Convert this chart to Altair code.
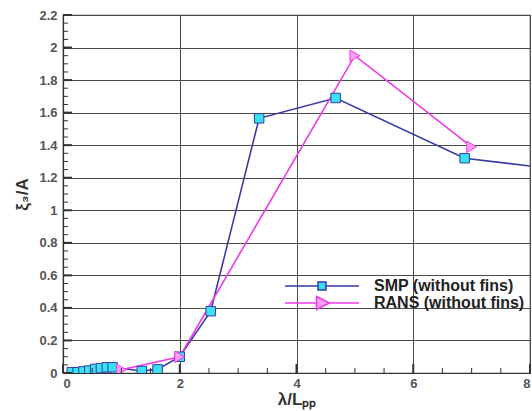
import altair as alt
import pandas as pd

# ---- data ----
smp_x = [0.15, 0.25, 0.35, 0.45, 0.55, 0.65, 0.75, 0.85, 1.35, 1.62, 2.0, 2.53, 3.36, 4.67, 6.88, 9.0]
smp_y = [0.005, 0.005, 0.01, 0.015, 0.025, 0.03, 0.035, 0.035, 0.012, 0.022, 0.10, 0.38, 1.565, 1.69, 1.32, 1.23]
rans_x = [1.0, 2.0, 5.0, 7.0]
rans_y = [0.02, 0.10, 1.95, 1.39]
series = ["SMP (without fins)", "RANS (without fins)"]

x_ticks = [0, 2, 4, 6, 8]
y_ticks = [0, 0.2, 0.4, 0.6, 0.8, 1, 1.2, 1.4, 1.6, 1.8, 2, 2.2]
y_minor = [round(i * 0.05, 2) for i in range(45)]
x_minor = [round(i * 0.5, 1) for i in range(17)]

BLUE = "#3a3aa8"
CYAN = "#38e2f2"
MAG = "#ee3ae8"
PINK = "#ff9cf6"
GRID = "#4a4a4a"

smp = pd.DataFrame({"x": smp_x, "y": smp_y, "series": series[0]})
rans = pd.DataFrame({"x": rans_x, "y": rans_y, "series": series[1]})
both = pd.concat([smp, rans])

W, H = 467, 358
xs = alt.Scale(domain=[0, 8], nice=False)
ys = alt.Scale(domain=[0, 2.2], nice=False)
xaxis = alt.Axis(values=x_ticks, title="λ/Lₚₚ", format="~g", labelOverlap=False)
yaxis = alt.Axis(values=y_ticks, title="ξ₃/A", format="~g", labelOverlap=False)

X = alt.X("x:Q", scale=xs, axis=xaxis)
Y = alt.Y("y:Q", scale=ys, axis=yaxis)

# inward tick marks
ymin_df = pd.DataFrame({"y": y_minor})
xmin_df = pd.DataFrame({"x": x_minor})
ymaj_df = pd.DataFrame({"y": y_ticks})
xmaj_df = pd.DataFrame({"x": x_ticks})

yminor = alt.Chart(ymin_df).mark_rule(color="#333", strokeWidth=1).encode(
    y=Y, x=alt.value(0), x2=alt.value(5))
ymajor = alt.Chart(ymaj_df).mark_rule(color="#333", strokeWidth=2).encode(
    y=Y, x=alt.value(0), x2=alt.value(9))
xminor = alt.Chart(xmin_df).mark_rule(color="#333", strokeWidth=1).encode(
    x=X, y=alt.value(H), y2=alt.value(H - 5))
xmajor = alt.Chart(xmaj_df).mark_rule(color="#333", strokeWidth=2).encode(
    x=X, y=alt.value(H), y2=alt.value(H - 9))

smp_line = alt.Chart(smp).mark_line(color=BLUE, strokeWidth=1.6, clip=True).encode(x=X, y=Y)
rans_line = alt.Chart(rans).mark_line(color=MAG, strokeWidth=1.6, clip=True).encode(x=X, y=Y)
smp_pts = alt.Chart(smp).mark_point(shape="square", filled=True, fill=CYAN, stroke=BLUE,
                                    strokeWidth=1, size=90, opacity=1, clip=True).encode(x=X, y=Y)
rans_pts = alt.Chart(rans).mark_point(shape="triangle-right", filled=True, fill=PINK, stroke=MAG,
                                      strokeWidth=1, size=130, opacity=1, clip=True).encode(x=X, y=Y)

SMP_SYM = "M-7.4,0L-0.8,0M-0.8,-0.8L0.8,-0.8L0.8,0.8L-0.8,0.8ZM0.8,0L7.4,0"
RANS_SYM = "M-7.4,0L-1.1,0M-1.1,-1.3L1.5,0L-1.1,1.3ZM1.5,0L7.4,0"

leg = alt.Legend(title=None, orient="none", legendX=251, legendY=263, padding=0,
                 symbolSize=100, symbolStrokeWidth=1.5, symbolOpacity=1, labelOffset=44,
                 rowPadding=-1, labelFont="Liberation Sans", labelFontWeight="bold",
                 labelFontSize=16, labelColor="#222", symbolOffset=0)

legend_layer = alt.Chart(both).transform_filter("false").mark_point(
    filled=True, opacity=1, strokeWidth=1.5).encode(
    x=X, y=Y,
    stroke=alt.Stroke("series:N", scale=alt.Scale(domain=series, range=[BLUE, MAG]), legend=leg),
    fill=alt.Fill("series:N", scale=alt.Scale(domain=series, range=[CYAN, PINK]), legend=leg),
    shape=alt.Shape("series:N", scale=alt.Scale(domain=series, range=[SMP_SYM, RANS_SYM]), legend=leg),
)

chart = alt.layer(
    smp_line, rans_line, smp_pts, rans_pts, legend_layer,
    yminor, ymajor, xminor, xmajor,
).properties(
    width=W, height=H,
    autosize=alt.AutoSizeParams(type="none"),
    padding={"left": 63, "top": 15, "right": 2, "bottom": 38},
    background="white",
).configure_view(
    stroke="#333", strokeWidth=1.2,
).configure_axis(
    grid=True, gridColor=GRID, gridOpacity=1, gridWidth=1,
    domainColor="#333", domainWidth=1.2,
    ticks=False,
    labelFont="Liberation Sans", labelFontWeight="bold", labelFontSize=13, labelColor="#555",
    titleFont="Liberation Sans", titleFontWeight="bold", titleFontSize=17, titleColor="#333",
).configure_axisX(
    labelPadding=4, titlePadding=1,
).configure_axisY(
    labelPadding=6, titlePadding=7,
)

chart.save("out.html", embed_options={"renderer": "svg", "actions": False})
